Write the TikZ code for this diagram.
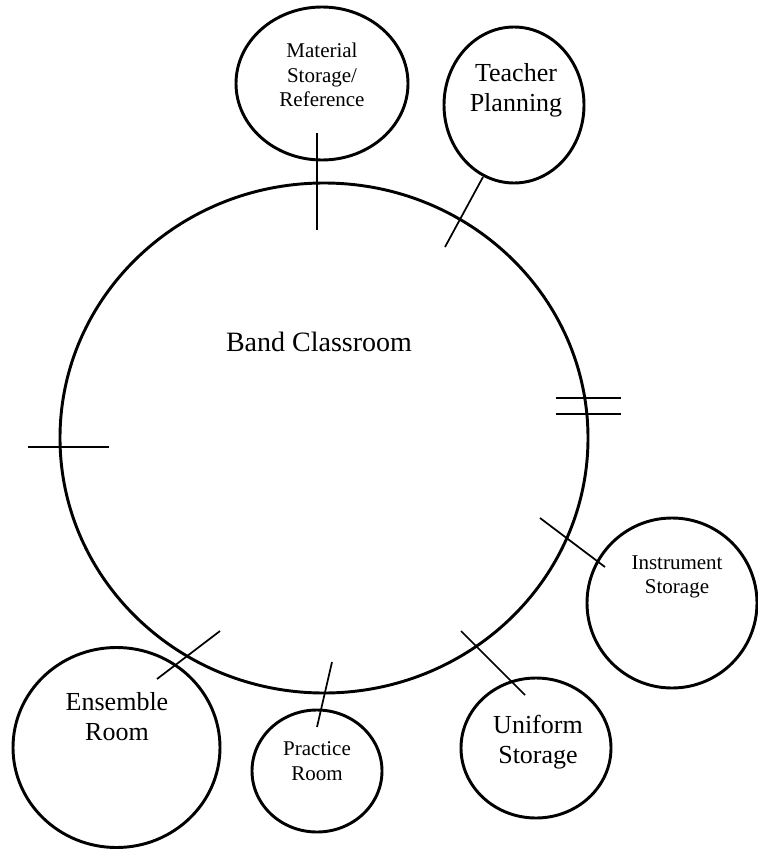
\documentclass[tikz,border=0pt]{standalone}
\usepackage{fontspec}
\setmainfont{Liberation Serif}
\usetikzlibrary{shapes.geometric}

\begin{document}
\begin{tikzpicture}[x=0.75pt,y=-0.75pt,
        room/.style={draw,ellipse,line width=2.2pt,inner sep=0pt,outer sep=0pt},
        big/.style={align=center,font=\fontsize{19.5}{22.5}\selectfont},
        small/.style={align=center,font=\fontsize{15.75}{18.5}\selectfont},
        door/.style={line width=1.3pt}]
        \useasboundingbox(0,0)rectangle(757,849);
        \node(band)at(324,438)[room,minimum width=396pt,minimum height=382.5pt]{};
        \node(bandtxt)at(319,342)[font=\fontsize{21}{24}\selectfont]{Band Classroom};
        \node(mat)at(322,83.5)[room,minimum width=129pt,minimum height=114.75pt]{};
        \node(mattxt)at(322,75)[small]{Material\\Storage/\\Reference};
        \node(tea)at(514,105)[room,minimum width=105pt,minimum height=117pt]{};
        \node(teatxt)at(516,90)[big]{Teacher\\Planning};
        \node(ins)at(672,603)[room,minimum width=127.5pt,minimum height=127.5pt]{};
        \node(instxt)at(677,577)[small]{Instrument\\Storage};
        \node(uni)at(536,748)[room,minimum width=112.5pt,minimum height=105pt]{};
        \node(unitxt)at(538,742)[big]{Uniform\\Storage};
        \node(pra)at(317,771)[room,minimum width=97.5pt,minimum height=91.5pt]{};
        \node(pratxt)at(317,761)[small]{Practice\\Room};
        \node(ens)at(116.5,747.5)[room,minimum width=155.25pt,minimum height=150pt]{};
        \node(enstxt)at(117,717)[big]{Ensemble\\Room};
        % doors
        \coordinate(d1a)at(317,133);\coordinate(d1b)at(317,230);
        \coordinate(d2a)at(483,177);\coordinate(d2b)at(445,247);
        \coordinate(d3a)at(28,447);\coordinate(d3b)at(109,447);
        \coordinate(d4a)at(556,398);\coordinate(d4b)at(621,398);
        \coordinate(d5a)at(556,414);\coordinate(d5b)at(621,414);
        \coordinate(d6a)at(540,518);\coordinate(d6b)at(605,567);
        \coordinate(d7a)at(461,631);\coordinate(d7b)at(525,695);
        \coordinate(d8a)at(332,662);\coordinate(d8b)at(317,727);
        \coordinate(d9a)at(220,631);\coordinate(d9b)at(157,679);
        \draw[door](d1a)--(d1b);
        \draw[door](d2a)--(d2b);
        \draw[door](d3a)--(d3b);
        \draw[door](d4a)--(d4b);
        \draw[door](d5a)--(d5b);
        \draw[door](d6a)--(d6b);
        \draw[door](d7a)--(d7b);
        \draw[door](d8a)--(d8b);
        \draw[door](d9a)--(d9b);
\end{tikzpicture}
\end{document}
